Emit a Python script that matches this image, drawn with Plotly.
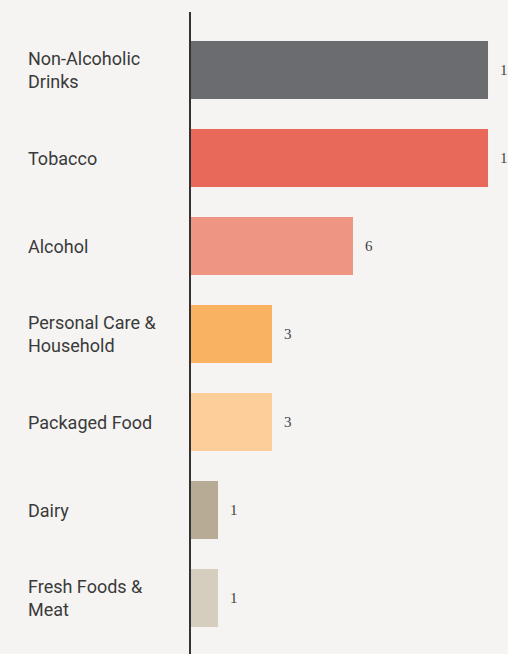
import plotly.graph_objects as go

categories = ["Non-Alcoholic<br>Drinks", "Tobacco", "Alcohol", "Personal Care &<br>Household",
              "Packaged Food", "Dairy", "Fresh Foods &<br>Meat"]
values = [11, 11, 6, 3, 3, 1, 1]
colors = ["#6b6c70", "#e8695a", "#ee9583", "#f9b262", "#fdcd9a", "#b8ab96", "#d5cebf"]

fig = go.Figure()
fig.add_trace(go.Bar(
    x=values, y=list(range(len(values))), orientation="h",
    marker=dict(color=colors, line=dict(width=0)),
    width=0.66, hoverinfo="skip",
))

annotations = []
for i, (c, v) in enumerate(zip(categories, values)):
    annotations.append(dict(
        x=-0.521, xref="paper", y=i, yref="y", text=c, showarrow=False,
        xanchor="left", yanchor="middle", align="left",
        font=dict(family="Roboto", size=18, color="#3a3a3a"),
    ))
    annotations.append(dict(
        x=v, xref="x", y=i, yref="y", text=str(v), showarrow=False,
        xanchor="left", yanchor="middle", xshift=10,
        font=dict(family="Liberation Serif", size=15, color="#444444"),
    ))

fig.update_layout(
    width=508, height=654,
    margin=dict(l=191, r=0, t=12, b=0),
    paper_bgcolor="#f5f4f2", plot_bgcolor="#f5f4f2",
    showlegend=False,
    xaxis=dict(range=[0, 11.74], showgrid=False, zeroline=False, showticklabels=False,
               showline=False, fixedrange=True),
    yaxis=dict(range=[6.636, -0.659], showgrid=False, zeroline=False, showticklabels=False,
               showline=True, linecolor="#333333", linewidth=2, fixedrange=True),
    annotations=annotations,
)

fig.write_html("out.html", config={"displayModeBar": False},
               post_script="document.body.style.margin='0';document.body.style.overflow='hidden';")
